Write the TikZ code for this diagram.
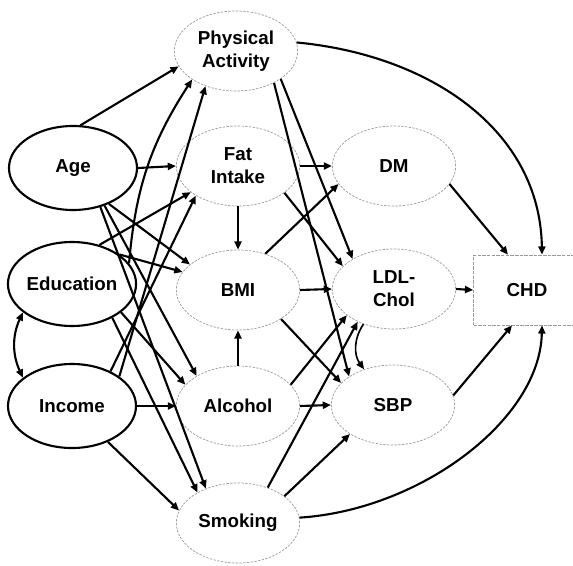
\documentclass[tikz,border=0pt]{standalone}
\usepackage{fontspec}
\setmainfont{Liberation Sans}
\usepackage{tikz}
\usetikzlibrary{shapes.geometric,arrows.meta,calc}

\begin{document}
\begin{tikzpicture}[x=0.03cm,y=-0.03cm,>={Triangle[length=7pt,width=6pt]},
  every node/.style={font=\fontsize{16}{19.5}\selectfont\bfseries,align=center},
  exo/.style={ellipse,draw,line width=1.8pt,minimum width=3.84cm,minimum height=2.52cm,inner sep=0pt},
  endo/.style={ellipse,draw=gray!80,line width=0.6pt,dash pattern=on 2pt off 1.2pt,minimum width=3.7cm,minimum height=2.4cm,inner sep=0pt},
  path/.style={->,line width=1.8pt}]
\useasboundingbox (0,0) rectangle (573,565);
\node[exo] (age) at (73,168) {Age};
\node[exo] (edu) at (72,284) {Education};
\node[exo] (inc) at (72,406) {Income};
\node[endo] (pa) at (236,51) {Physical\\Activity};
\node[endo] (fat) at (238,166) {Fat\\Intake};
\node[endo] (bmi) at (238,290) {BMI};
\node[endo] (alc) at (238,406) {Alcohol};
\node[endo] (smk) at (238,523) {Smoking};
\node[endo] (dm) at (394,166) {DM};
\node[endo] (ldl) at (394,289) {LDL-\\Chol};
\node[endo] (sbp) at (393,405) {SBP};
\node[draw=gray!80,line width=0.6pt,dash pattern=on 3pt off 1pt,minimum width=3.21cm,minimum height=2.1cm] (chd) at (527,290) {CHD};

\draw[path] (age.80) -- (pa.195);
\draw[path] (age.0) -- (fat.180);
\draw[path] (age.315) -- (bmi.152);
\draw[path] (age.310) -- (alc.144);
\draw[path] (age.305) -- (smk.133);
\draw[path] (edu.20) to[bend left=14] (pa.213);
\draw[path] (edu.55) -- (fat.209);
\draw[path] (edu.32) -- (bmi.162);
\draw[path] (edu.330) -- (alc.158);
\draw[path] (edu.320) -- (smk.143);
\draw[path] (inc.32) -- (pa.229);
\draw[path] (inc.42) -- (fat.215);
\draw[path] (inc.0) -- (alc.180);
\draw[path] (inc.315) -- (smk.168);
\draw[<->,line width=1.8pt] (edu.210) to[bend right=25] (inc.150);

\draw[path] (pa.328) -- (ldl.144);
\draw[path] (pa.320) -- (sbp.147);
\draw[path] (pa.8) .. controls (430,55) and (540,130) .. ($(chd.north)+(15,0)$);
\draw[path] (fat.0) -- (dm.180);
\draw[path] (fat.330) -- (ldl.156);
\draw[path] (fat.270) -- (bmi.90);
\draw[path] (bmi.53) -- (dm.198);
\draw[path] (bmi.0) -- (ldl.180);
\draw[path] (bmi.326) -- (sbp.157);
\draw[path] (alc.90) -- (bmi.270);
\draw[path] (alc.22) -- (ldl.209);
\draw[path] (alc.0) -- (sbp.180);
\draw[path] (smk.50) -- (ldl.222);
\draw[path] (smk.30) -- (sbp.214);
\draw[path] (smk.5) .. controls (420,510) and (540,420) .. ($(chd.south)+(15,0)$);
\draw[->,line width=1.4pt] (ldl.229) to[bend right=35] (sbp.129);

\draw[path] (dm.342) -- ($(chd.north)+(-19,0)$);
\draw[path] (ldl.0) -- (chd.west);
\draw[path] (sbp.9) -- ($(chd.south)+(-15,0)$);
\end{tikzpicture}
\end{document}
